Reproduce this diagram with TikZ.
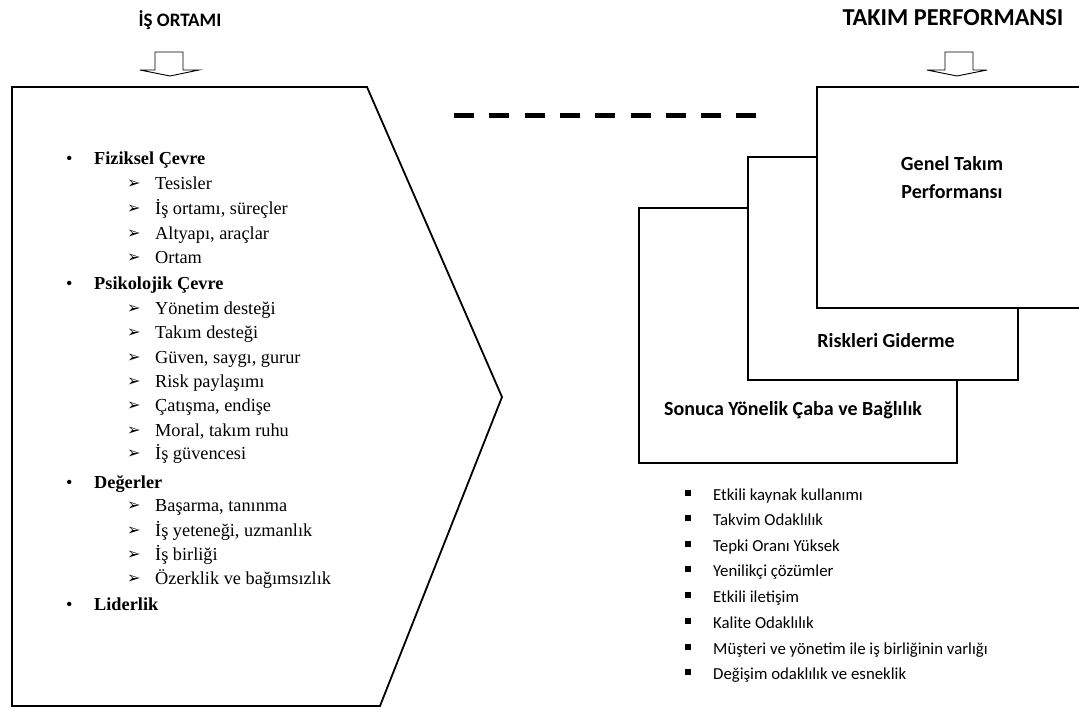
\documentclass[tikz,border=0pt]{standalone}
\usepackage{fontspec}
\setmainfont{Liberation Serif}
\newfontfamily\calibri{Carlito}
\newfontfamily\symbols{DejaVu Sans}
\usetikzlibrary{positioning}

\tikzset{
  title/.style={font=\calibri\bfseries\fontsize{19}{23}\selectfont},
  boxtext/.style={font=\calibri\bfseries\fontsize{20}{28}\selectfont, align=center},
  perfbox/.style={draw, line width=2.2pt, fill=white},
  hollow/.style={draw, line width=0.9pt, fill=white},
  cat/.style={anchor=base west, font=\bfseries\fontsize{18.3}{22}\selectfont, inner sep=0pt},
  sub/.style={anchor=base west, font=\fontsize{18.3}{22}\selectfont, inner sep=0pt},
  res/.style={anchor=base west, font=\calibri\fontsize{16.8}{20}\selectfont, inner sep=0pt}
}

\begin{document}
\begin{tikzpicture}[x=1pt, y=-1pt]
  \clip (0,0) rectangle (1079,707);
  \fill[white] (0,0) rectangle (1079,707);

  % basliklar
  \node[title] (isortami) at (180,20) {İŞ ORTAMI};
  \node[title, font=\calibri\bfseries\fontsize{24.3}{28}\selectfont] (takimperf) at (953,18) {TAKIM PERFORMANSI};

  % bos oklar
  \draw[hollow] (155,52) -- (183,52) -- (183,70) -- (199,70) -- (170,76) -- (140,70) -- (155,70) -- cycle;
  \draw[hollow] (945,52) -- (973,52) -- (973,70) -- (987,70) -- (957,76) -- (927,70) -- (945,70) -- cycle;

  % is ortami kutusu (besgen)
  \draw[line width=1.8pt, line join=miter] (12,87) -- (367,87) -- (502,397) -- (380,706) -- (12,706) -- cycle;

  % kesikli cizgi
  \draw[line width=5pt, dash pattern=on 20pt off 15.3pt] (454,115) -- (757,115);

  % performans kutulari, arkadan one
  \draw[perfbox] (639,208) rectangle (957,463);
  \draw[perfbox] (748,157) rectangle (1018,380);
  \draw[perfbox] (817,87) rectangle (1090,308);

  \node[boxtext] (genel) at (952,178) {Genel Takım\\Performansı};
  \node[boxtext] (riskler) at (886,341) {Riskleri Giderme};
  \node[boxtext] (sonuca) at (793,410) {Sonuca Yönelik Çaba ve Bağlılık};

  % ana basliklar
  \foreach \y/\t in {158/Fiziksel Çevre, 283/Psikolojik Çevre, 482/Değerler, 604/Liderlik} {
    \node[sub] at (66,\y+6) {•};
    \node[cat] at (94,\y+6) {\t};
  }

  % alt maddeler
  \foreach \y/\t in {183/Tesisler, 208/{İş ortamı, süreçler}, 233/{Altyapı, araçlar}, 257/Ortam,
      308/Yönetim desteği, 332/Takım desteği, 357/{Güven, saygı, gurur}, 381/Risk paylaşımı,
      405/{Çatışma, endişe}, 430/{Moral, takım ruhu}, 453/İş güvencesi,
      505/{Başarma, tanınma}, 530/{İş yeteneği, uzmanlık}, 554/İş birliği, 578/Özerklik ve bağımsızlık} {
    \node[sub, font=\symbols\fontsize{16}{18}\selectfont] at (127,\y+5) {➢};
    \node[sub] at (155,\y+6) {\t};
  }

  % sonuclar
  \foreach \y/\t in {495/Etkili kaynak kullanımı, 520/Takvim Odaklılık, 546/Tepki Oranı Yüksek,
      571/Yenilikçi çözümler, 597/Etkili iletişim, 623/Kalite Odaklılık,
      649/Müşteri ve yönetim ile iş birliğinin varlığı, 674/Değişim odaklılık ve esneklik} {
    \fill (685,\y-5) rectangle (691,\y+1);
    \node[res] at (713,\y+5) {\t};
  }
\end{tikzpicture}
\end{document}
